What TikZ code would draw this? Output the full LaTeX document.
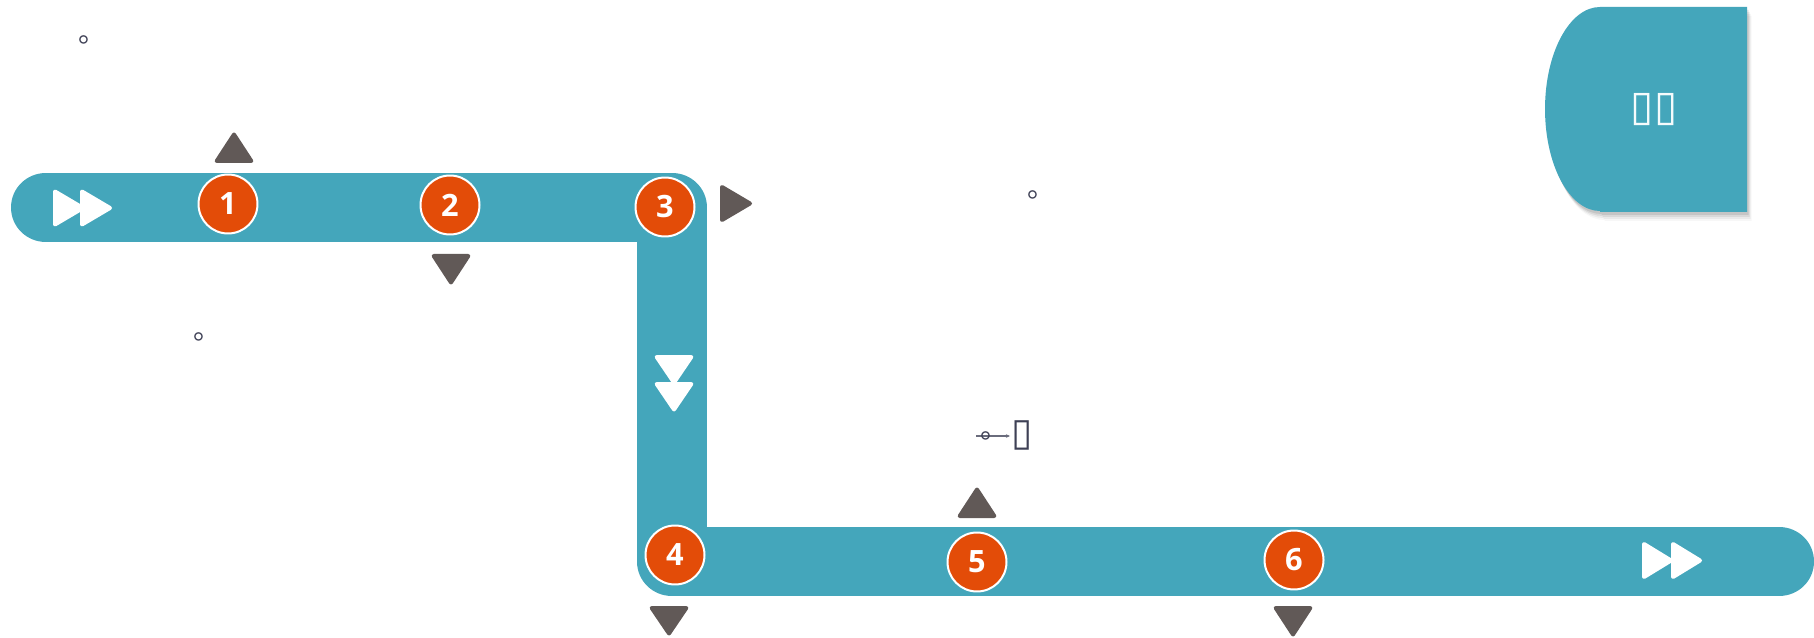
\documentclass[tikz,border=0pt]{standalone}
\usepackage{fontspec}
\setmainfont{Open Sans}
\newfontfamily\cjkf{Noto Sans CJK SC}
\newfontfamily\djv{DejaVu Sans}
\usetikzlibrary{arrows.meta}
\definecolor{barc}{HTML}{44A6BB}
\definecolor{orng}{HTML}{E34C08}
\definecolor{trig}{HTML}{615957}
\definecolor{inkc}{HTML}{3E4055}
\definecolor{linec}{HTML}{6A6C7C}
\tikzset{
  numc/.style={circle, minimum size=1.18cm, inner sep=0pt, fill=orng, draw=white,
    line width=0.04cm, text=white, font=\bfseries\fontsize{17.5}{20}\selectfont},
  gtri/.style={fill=trig, draw=trig, line width=0.08cm, line join=round},
  wtri/.style={fill=white, draw=white, line width=0.08cm, line join=round},
  dotc/.style={inner sep=0pt, text=inkc, font=\cjkf\fontsize{16}{18}\selectfont, xshift=0.41em},
}
\begin{document}
\begin{tikzpicture}[x=0.02cm,y=-0.02cm]
\useasboundingbox (0,0) rectangle (1814,638);
\fill[white] (0,0) rectangle (1814,638);

% the bar
\coordinate (b0) at (46,207.5);
\coordinate (b1) at (672,207.5);
\coordinate (b2) at (672,561.5);
\coordinate (b3) at (1779,561.5);
\draw[barc, line width=1.4cm, line cap=round, line join=round] (b0) -- (b1) -- (b2) -- (b3);

% white direction icons
\filldraw[wtri] (55,191.5) -- (55,224.5) -- (83,208) -- cycle;
\filldraw[wtri] (82,191.5) -- (82,224.5) -- (110,208) -- cycle;
\filldraw[wtri] (1644,544) -- (1644,577) -- (1671,560.5) -- cycle;
\filldraw[wtri] (1673,544) -- (1673,577) -- (1700,560.5) -- cycle;
\filldraw[wtri] (656.7,357) -- (691.3,357) -- (674,382.5) -- cycle;
\filldraw[wtri] (656.7,384) -- (691.3,384) -- (674,409.5) -- cycle;

% grey markers
\filldraw[gtri] (216.7,161) -- (251.3,161) -- (234,134.5) -- cycle;
\filldraw[gtri] (433.7,256) -- (468.3,256) -- (451,282.5) -- cycle;
\filldraw[gtri] (722,187) -- (722,220) -- (750,203.5) -- cycle;
\filldraw[gtri] (651.7,608) -- (686.3,608) -- (669,633.5) -- cycle;
\filldraw[gtri] (959.7,516) -- (994.3,516) -- (977,489.5) -- cycle;
\filldraw[gtri] (1275.7,608) -- (1310.3,608) -- (1293,634.5) -- cycle;

% numbered steps
\node[numc] (n1) at (228,204) {1};
\node[numc] (n2) at (450,205) {2};
\node[numc] (n3) at (665,207) {3};
\node[numc] (n4) at (675,555) {4};
\node[numc] (n5) at (977,562) {5};
\node[numc] (n6) at (1294,560) {6};

% title box with shadow
\foreach \o/\a in {9/0.03,7/0.05,5/0.07,3/0.09} {
  \fill[black, opacity=\a, shift={(\o*0.5,\o)}]
    (1747,7) -- (1600,7) .. controls (1569.6,7) and (1545,52.7) .. (1545,109)
    .. controls (1545,165.3) and (1569.6,211) .. (1600,211) -- (1600,212) -- (1747,212) -- cycle;
}
\fill[barc] (1747,7) -- (1600,7) .. controls (1569.6,7) and (1545,52.7) .. (1545,109)
    .. controls (1545,165.3) and (1569.6,211) .. (1600,211) -- (1600,212) -- (1747,212) -- cycle;
\node[text=white!95!barc, inner sep=0pt, font=\djv\fontsize{24}{28}\selectfont] (title) at (1654,110) {▯▯};

% stray marks
\node[dotc] (d1) at (85,40) {。};
\node[dotc] (d2) at (200,337) {。};
\node[dotc] (d3) at (1034,195) {。};
\coordinate (la) at (976,436);
\coordinate (lb) at (1010,436);
\draw[linec, line width=0.025cm, -{Stealth[length=0.08cm,width=0.07cm]}] (la) -- (lb);
\node[dotc] (d4) at (987,436) {。};
\node[text=inkc, inner sep=0pt, font=\djv\fontsize{22}{26}\selectfont] (tofu) at (1022.5,435.5) {▯};
\end{tikzpicture}
\end{document}
